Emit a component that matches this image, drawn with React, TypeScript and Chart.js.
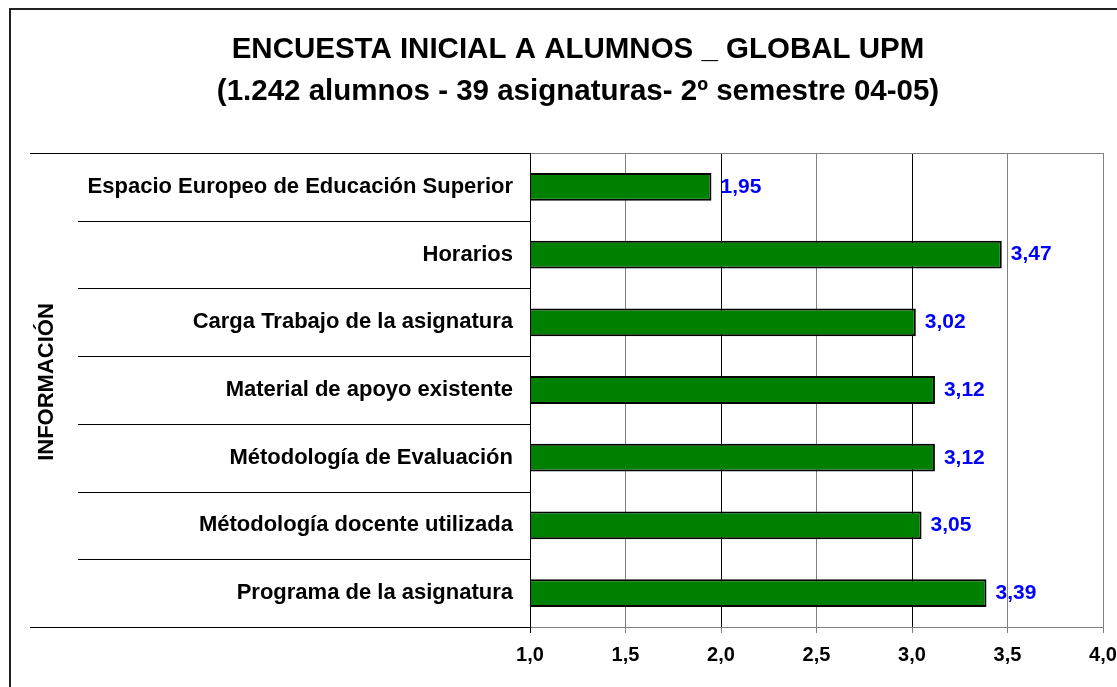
import React, { useEffect, useRef } from "react";
import { Chart, registerables } from "chart.js";

Chart.register(...registerables);

const titleLines = [
  "ENCUESTA INICIAL A ALUMNOS _ GLOBAL UPM",
  "(1.242 alumnos - 39 asignaturas- 2º semestre 04-05)",
];
const axisTitle = "INFORMACIÓN";
const categories = [
  "Espacio Europeo de Educación Superior",
  "Horarios",
  "Carga Trabajo de la asignatura",
  "Material de apoyo existente",
  "Métodología de Evaluación",
  "Métodología docente utilizada",
  "Programa de la asignatura",
];
const values = [1.95, 3.47, 3.02, 3.12, 3.12, 3.05, 3.39];
const xMin = 1.0;
const xMax = 4.0;
const xStep = 0.5;

const FONT = '"Liberation Sans", Arial, Helvetica, sans-serif';
const fmt = (v: number, d: number) => v.toFixed(d).replace(".", ",");

const decoPlugin = {
  id: "deco",
  beforeDraw(chart: any) {
    const ctx = chart.ctx;
    ctx.save();
    ctx.fillStyle = "#ffffff";
    ctx.fillRect(0, 0, chart.width, chart.height);
    ctx.restore();
  },
  afterDatasetsDraw(chart: any) {
    const ctx = chart.ctx;
    const meta = chart.getDatasetMeta(0);
    ctx.save();
    ctx.font = `bold 21px ${FONT}`;
    ctx.fillStyle = "#0000FF";
    ctx.textAlign = "left";
    ctx.textBaseline = "middle";
    meta.data.forEach((bar: any, i: number) => {
      ctx.fillText(fmt(values[i], 2), bar.x + 9, bar.y);
    });
    ctx.restore();
  },
  afterDraw(chart: any) {
    const ctx = chart.ctx;
    const { left, right, top, bottom } = chart.chartArea;
    const yScale = chart.scales.y;
    ctx.save();
    // outer frame
    ctx.strokeStyle = "#222";
    ctx.lineWidth = 2;
    ctx.strokeRect(10, 9, 1300, 900);
    // title
    ctx.fillStyle = "#000";
    ctx.textAlign = "center";
    ctx.textBaseline = "alphabetic";
    ctx.font = `bold 29.5px ${FONT}`;
    ctx.fillText(titleLines[0], 578, 58);
    ctx.fillText(titleLines[1], 578, 100);
    // category separators
    const n = categories.length;
    ctx.strokeStyle = "#000";
    ctx.lineWidth = 1;
    for (let i = 0; i <= n; i++) {
      const py = Math.round(yScale.getPixelForValue(i - 0.5)) + 0.5;
      const x0 = i === 0 || i === n ? 30 : 78;
      ctx.beginPath();
      ctx.moveTo(x0, py);
      ctx.lineTo(left, py);
      ctx.stroke();
    }
    // plot frame top & right
    ctx.strokeStyle = "#808080";
    ctx.beginPath();
    ctx.moveTo(left, Math.round(top) + 0.5);
    ctx.lineTo(Math.round(right) + 0.5, Math.round(top) + 0.5);
    ctx.lineTo(Math.round(right) + 0.5, bottom);
    ctx.stroke();
    // left axis line
    ctx.strokeStyle = "#000";
    ctx.beginPath();
    ctx.moveTo(Math.round(left) + 0.5, top);
    ctx.lineTo(Math.round(left) + 0.5, bottom + 6);
    ctx.stroke();
    // axis title
    ctx.translate(47, 382);
    ctx.rotate(-Math.PI / 2);
    ctx.font = `bold 22px ${FONT}`;
    ctx.fillStyle = "#000";
    ctx.textAlign = "center";
    ctx.textBaseline = "middle";
    ctx.fillText(axisTitle, 0, 0);
    ctx.restore();
  },
};

export default function App() {
  const ref = useRef<HTMLCanvasElement | null>(null);
  useEffect(() => {
    if (!ref.current) return;
    const chart = new Chart(ref.current, {
      type: "bar",
      data: {
        labels: categories,
        datasets: [
          {
            data: values,
            backgroundColor: "#008000",
            borderColor: "#000000",
            borderWidth: 2,
            borderSkipped: false,
            barPercentage: 0.41,
            categoryPercentage: 1,
          },
        ],
      },
      options: {
        indexAxis: "y",
        responsive: false,
        animation: false,
        devicePixelRatio: 1,
        layout: { padding: { left: 0, top: 153, right: 14, bottom: 0 } },
        plugins: {
          legend: { display: false },
          title: { display: false },
          tooltip: { enabled: false },
        },
        scales: {
          x: {
            type: "linear",
            min: xMin,
            max: xMax,
            afterFit(scale: any) {
              scale.height = 60;
              scale.paddingLeft = 0;
              scale.paddingRight = 0;
            },
            ticks: {
              stepSize: xStep,
              padding: 10,
              color: "#000",
              font: { family: FONT, size: 20, weight: "bold" },
              callback: (v: any) => fmt(Number(v), 1),
            },
            grid: {
              drawTicks: true,
              tickLength: 6,
              color: (c: any) => {
                const v = c.tick ? c.tick.value : 0;
                return v === 2 || v === 3 || v === 1 ? "#000000" : "#808080";
              },
              tickColor: "#808080",
            },
            border: { display: true, color: "#808080" },
          },
          y: {
            type: "category",
            afterFit(scale: any) {
              scale.width = 530;
              scale.paddingTop = 0;
              scale.paddingBottom = 0;
            },
            ticks: {
              padding: 17,
              color: "#000",
              font: { family: FONT, size: 22, weight: "bold" },
            },
            grid: { display: false, drawTicks: false },
            border: { display: false },
          },
        },
      },
      plugins: [decoPlugin],
    } as any);
    return () => chart.destroy();
  }, []);
  return (
    <div style={{ position: "fixed", left: 0, top: 0, width: 1117, height: 687, background: "#fff" }}>
      <canvas ref={ref} width={1117} height={687} style={{ display: "block" }} />
    </div>
  );
}
